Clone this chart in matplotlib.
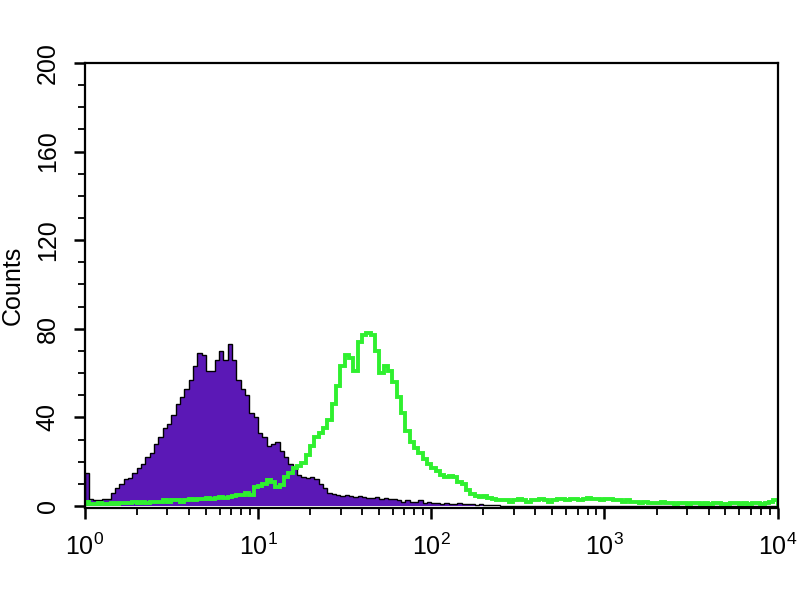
import numpy as np
import matplotlib
matplotlib.use('Agg')
import matplotlib.pyplot as plt
from matplotlib.ticker import MultipleLocator, LogLocator

plt.rcParams['font.family'] = ['Liberation Sans', 'DejaVu Sans']

# counts per channel, channels are 0.025 decades wide from 10^0 to 10^4
control_counts = [15, 3, 2.7, 2.7, 3, 3, 6, 8, 10, 12,
                  12.6, 15, 17, 19, 22, 24, 28, 31, 35, 37,
                  41, 46, 49, 53, 57, 63, 69, 68, 61, 61,
                  66, 70, 66, 73, 66, 57, 53, 50, 42, 40,
                  33, 31, 27, 28, 29, 25, 22, 19, 17, 14,
                  13, 12.5, 13, 12, 10, 8, 6, 5.5, 5, 4.5,
                  5, 4.5, 4, 4.5, 4, 3.5, 3.5, 4, 3, 3.5,
                  3, 3, 2.5, 2, 2.5, 2, 2, 2.5, 1.5, 2,
                  1.5, 1.5, 1, 1.5, 1, 1, 1.5, 1, 1, 1,
                  0.5, 1, 0.5, 0.5, 0.5, 0.5, 0, 0, 0, 0] + [0] * 60
stained_counts = [2, 1, 1, 1.5, 1, 1, 1.5, 1, 1.5, 1.5,
                  1.5, 2, 1.5, 2, 1.5, 2, 2, 2, 2.5, 2,
                  2.5, 2.5, 2, 2.5, 3, 2.5, 3, 3, 3.5, 3,
                  3.5, 4, 3.5, 4, 4.5, 5, 5, 6, 5, 8.7,
                  9, 10, 11.7, 11, 8.7, 9.5, 13, 15, 17, 18,
                  19.5, 23, 27, 31, 33, 35, 39, 46, 54, 63,
                  68, 67, 61, 74, 77, 78, 77, 70, 60, 63,
                  61, 56, 49, 42, 34, 29, 26, 24, 21, 19,
                  17, 16, 14, 13, 13.5, 13, 11, 10, 7, 5.5,
                  4.5, 4, 4.5, 3.5, 3, 2.5, 2.5, 2.5, 2, 2.5,
                  3, 2.5, 2, 2.5, 2.5, 3, 2.5, 2, 2.5, 3,
                  3, 2.5, 3, 3, 2.5, 3, 3.5, 3, 3, 2.5,
                  3, 3, 2.5, 2.5, 2, 2.5, 2, 2, 1.5, 2,
                  1.5, 1.5, 1.5, 2, 1.5, 1.5, 1, 1.5, 1.5, 1,
                  1.5, 1.5, 1, 1.5, 1, 1.5, 1.5, 1, 1, 1.5,
                  1.5, 1, 1.5, 1, 1.5, 1.5, 1, 1.5, 2, 2.5]

n_bins = len(control_counts)
edges = 10 ** np.linspace(0, 4, n_bins + 1)

fig = plt.figure(figsize=(8, 6), dpi=100)
ax = fig.add_axes([0.106, 0.153, 0.866, 0.742])

# filled control histogram with black outline
ax.stairs(control_counts, edges, fill=True, color='#5b18b6')
ax.stairs(control_counts, edges, color='black', linewidth=1)
# stained sample as a green outline
ax.stairs(stained_counts, edges, color='#2ff02f', linewidth=2.8)

ax.set_xscale('log')
ax.set_xlim(1, 1e4)
ax.set_ylim(-1, 200)
ax.xaxis.set_major_locator(LogLocator(base=10))
ax.xaxis.set_minor_locator(LogLocator(base=10, subs=np.arange(2, 10)))
ax.yaxis.set_major_locator(MultipleLocator(40))
ax.yaxis.set_minor_locator(MultipleLocator(10))

ax.tick_params(which='major', length=8, width=1.8, labelsize=18, direction='out')
ax.tick_params(which='minor', length=5, width=1.3, direction='out')
ax.tick_params(axis='x', pad=10)
ax.tick_params(axis='y', pad=10)
for lab in ax.get_yticklabels():
    lab.set_rotation(90)
    lab.set_va('center')
for s in ax.spines.values():
    s.set_linewidth(1.6)

ax.set_ylabel('Counts', fontsize=18, labelpad=8)

fig.savefig('out.png')
